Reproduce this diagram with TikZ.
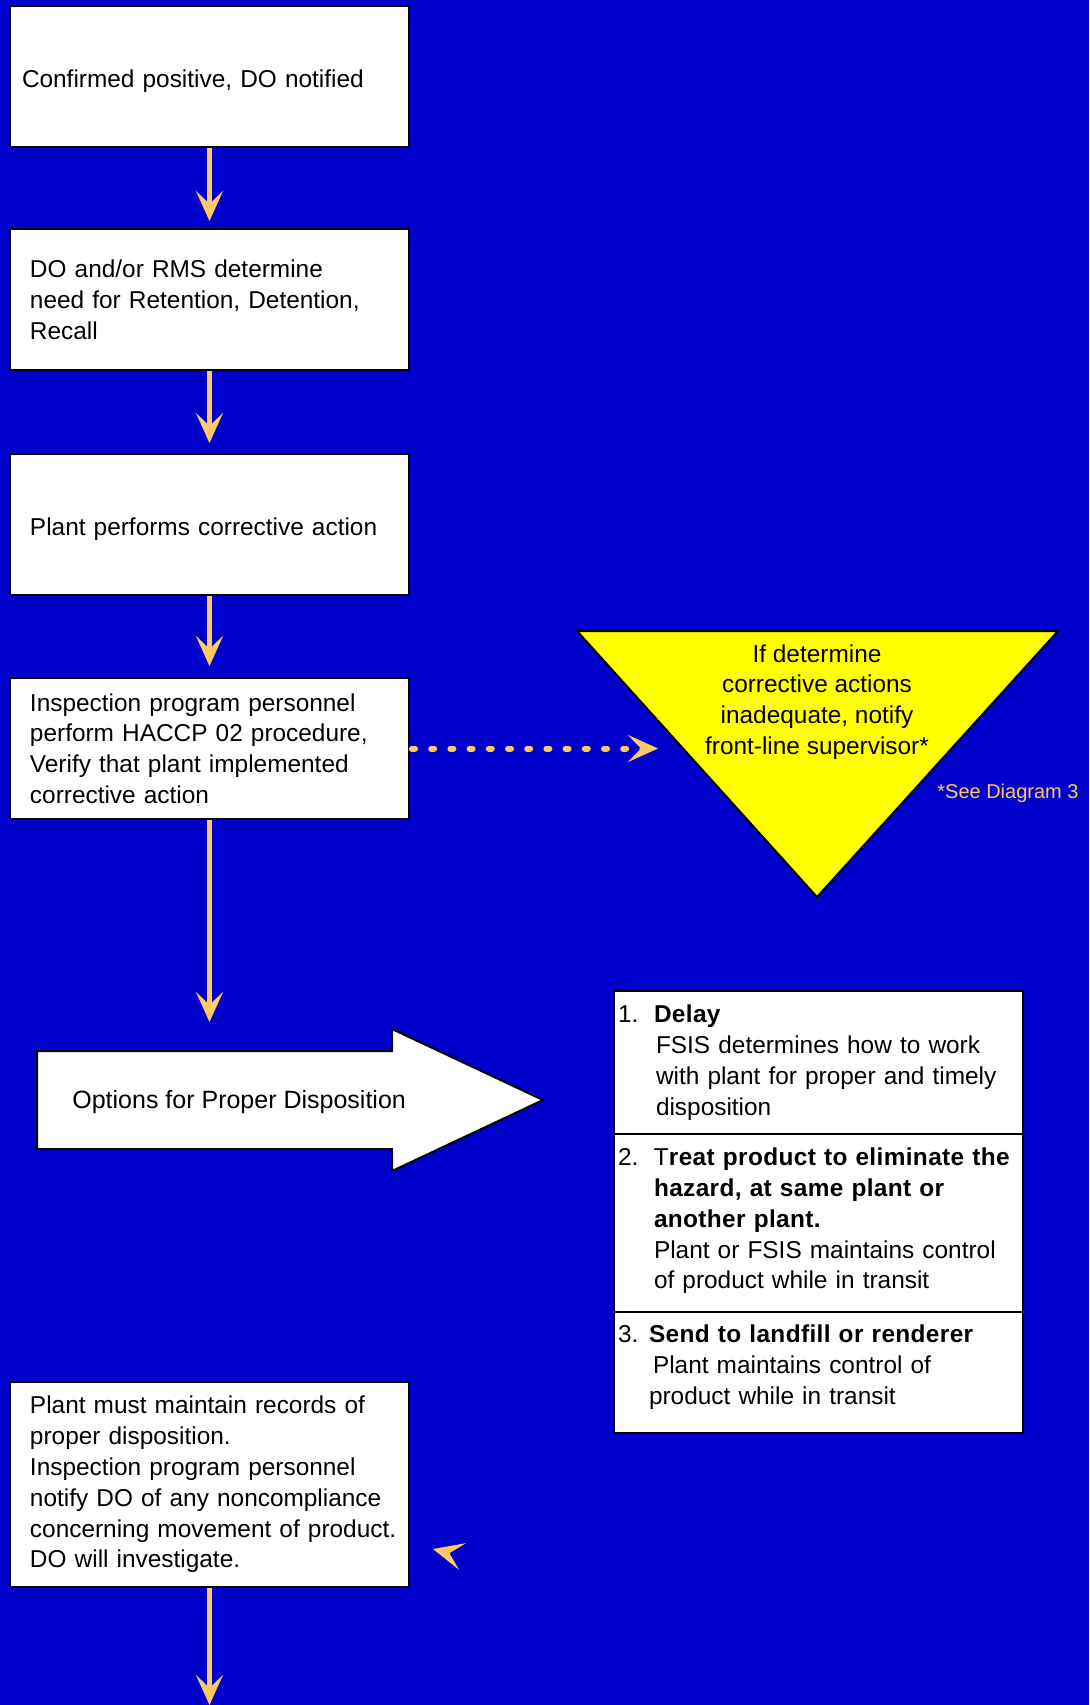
\documentclass[tikz,border=0pt]{standalone}
\usepackage{fontspec}
\setmainfont{Liberation Sans}[BoldFeatures={LetterSpace=1.5}]
\usetikzlibrary{arrows.meta}

\definecolor{slideblue}{RGB}{0,0,204}
\definecolor{flowgold}{RGB}{255,201,102}
\definecolor{warnyellow}{RGB}{255,255,0}

\tikzset{
    slidefont/.style={font=\fontsize{12.2}{15.4}\selectfont},
    stepbox/.style={draw, line width=1pt, fill=white, slidefont, align=left,
        minimum width=199.5pt, minimum height=70.5pt, text width=179.5pt, inner xsep=10pt},
    onelinebox/.style={stepbox, text height=13pt, text depth=2.5pt},
    listcell/.style={draw, line width=1pt, fill=white, slidefont, align=left,
        minimum width=204.5pt, text width=200.5pt, inner xsep=2pt},
    flow/.style={draw=flowgold, line width=2.5pt,
        -{Stealth[length=15pt, width=13.5pt, inset=6.5pt]}},
    dotflow/.style={flow, line cap=round, dash pattern=on 1.5pt off 8.1pt, line width=3pt},
}

\begin{document}
\begin{tikzpicture}[x=0.5pt, y=-0.5pt]
    \useasboundingbox (0,0) rectangle (1089,1705);
    \fill[slideblue] (0,0) rectangle (1089,1705);

    % main column
    \node[onelinebox, inner xsep=6pt, text width=187.5pt] (confirm) at (209.5,76.5) {Confirmed positive, DO notified};
    \node[stepbox] (determine) at (209.5,299.5) {DO and/or RMS determine\\need for Retention, Detention,\\Recall};
    \node[onelinebox] (corrective) at (209.5,524.5) {Plant performs corrective action};
    \node[stepbox] (verify) at (209.5,748.5) {Inspection program personnel\\perform HACCP 02 procedure,\\Verify that plant implemented\\corrective action};
    \node[stepbox, minimum height=102.5pt] (records) at (209.5,1484.5) {Plant must maintain records of\\proper disposition.\\Inspection program personnel\\notify DO of any noncompliance\\\mbox{concerning movement of product.}\\DO will investigate.};

    \draw[flow, shorten >=3.5pt] (confirm) -- (determine);
    \draw[flow, shorten >=5pt] (determine) -- (corrective);
    \draw[flow, shorten >=5.5pt] (corrective) -- (verify);

    % warning triangle
    \filldraw[fill=warnyellow, draw=black, line width=1pt] (577,631) -- (1058,631) -- (817,897) -- cycle;
    \node[slidefont, align=center] (notify) at (817,702) {If determine\\corrective actions\\inadequate, notify\\front-line supervisor*};
    \node[anchor=west, inner sep=0pt, text=flowgold, font=\fontsize{10}{12}\selectfont] (seediag) at (937,793) {*See Diagram 3};
    \coordinate (warnin) at (658,748.5);
    \draw[dotflow, shorten <=1pt] (verify) -- (warnin);

    % options arrow
    \filldraw[fill=white, draw=black, line width=1pt] (37,1051) coordinate (optnw) -- (392,1051) -- (392,1029)
        -- (543,1100) -- (392,1171) -- (392,1149) -- (37,1149) -- cycle;
    \node[anchor=west, inner sep=0pt, font=\fontsize{12.5}{15.4}\selectfont] (options) at (72,1102) {Options for Proper Disposition};
    \draw[flow, shorten >=14.5pt] (verify) -- (verify |- optnw);

    % the three options
    \node[listcell, minimum height=71.5pt] (delay) at (818.5,1062.5)
        {\makebox[18pt][l]{1.}\textbf{Delay}\\
         \hspace*{19pt}FSIS determines how to work\\
         \hspace*{19pt}with plant for proper and timely\\
         \hspace*{19pt}disposition};
    \node[listcell, minimum height=89pt, text depth=66.1pt] (treat) at (818.5,1223)
        {\makebox[18pt][l]{2.}T\textbf{reat product to eliminate the}\\
         \hspace*{18pt}\textbf{hazard, at same plant or}\\
         \hspace*{18pt}\textbf{another plant.}\\
         \hspace*{18pt}Plant or FSIS maintains control\\
         \hspace*{18pt}of product while in transit};
    \node[listcell, minimum height=60.5pt, text depth=38.7pt] (landfill) at (818.5,1372.5)
        {\makebox[15.5pt][l]{3.}\textbf{Send to landfill or renderer}\\
         \hspace*{17.5pt}Plant maintains control of\\
         \hspace*{15.5pt}product while in transit};

    % loose arrow head and exit
    \coordinate (strayback) at (449.5,1553.2);
    \coordinate (straytip) at (433,1549);
    \draw[flow] (strayback) -- (straytip);
    \coordinate (exit) at (209.5,1705);
    \draw[flow] (records) -- (exit);
\end{tikzpicture}
\end{document}
